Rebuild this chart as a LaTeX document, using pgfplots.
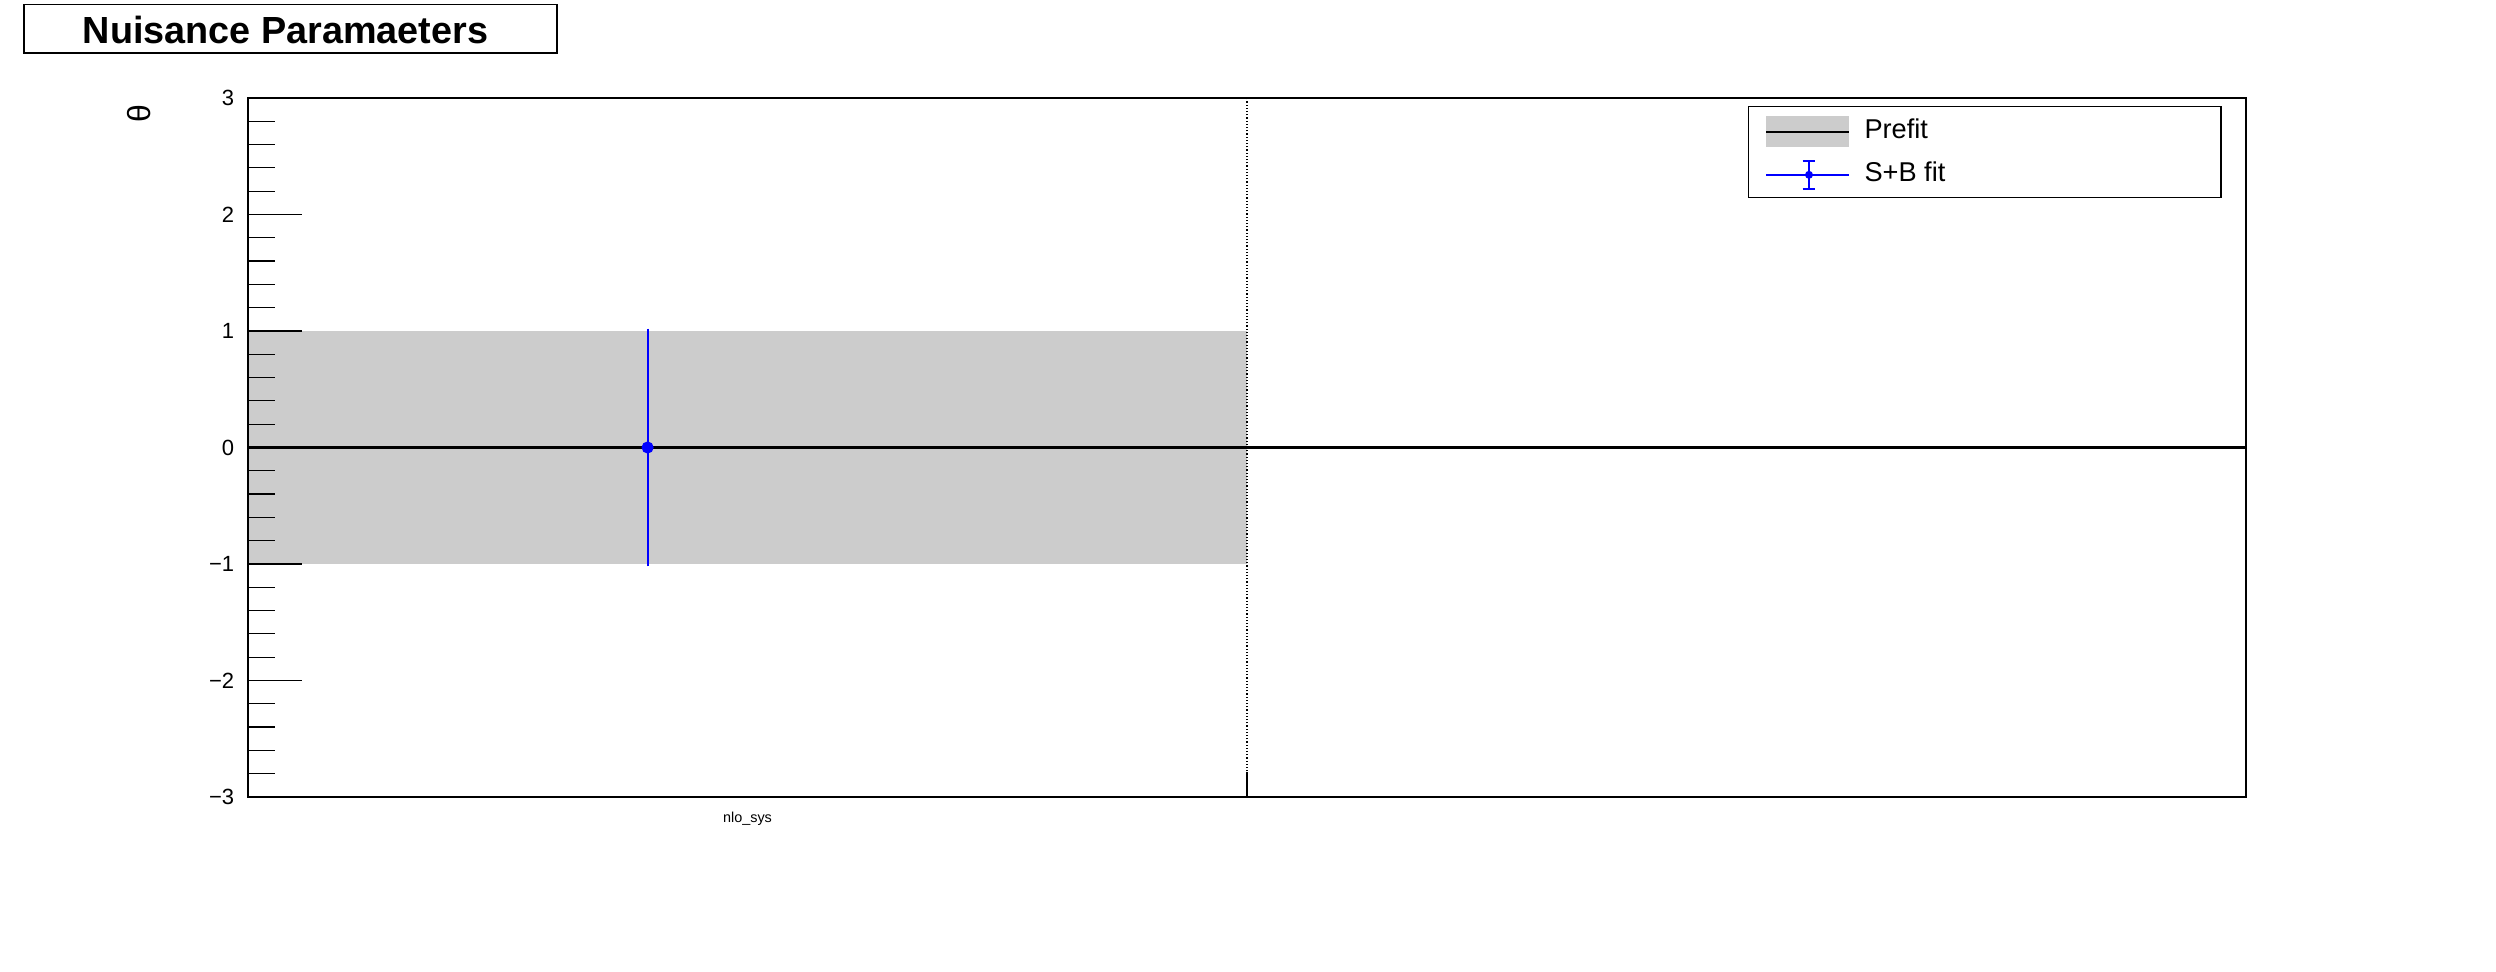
\documentclass[border=0pt]{standalone}
\usepackage{pgfplots}
\pgfplotsset{compat=1.18}
\usepackage{fontspec}
\setmainfont{Liberation Sans}
\definecolor{band}{HTML}{CCCCCC}
\begin{document}
\begin{tikzpicture}
\path[use as bounding box] (0pt,0pt) rectangle (624pt,243pt);
% title box
\draw[line width=0.3pt] (6pt,229.75pt) rectangle (139.25pt,241.9pt);
\node[anchor=base west, inner sep=0pt, font=\bfseries\fontsize{9.45}{11}\selectfont] at (20.5pt,232.1pt) {Nuisance Paramaeters};
% y label
\node[rotate=90, inner sep=0pt, font=\fontsize{8}{9}\selectfont] at (34.75pt,214.5pt) {θ};
\begin{axis}[
  at={(62pt,43.75pt)}, anchor=south west,
  scale only axis, width=499.5pt, height=174.75pt,
  xmin=0, xmax=2, ymin=-3, ymax=3,
  axis line style={line width=0.3pt},
  axis on top,
  ytick={-3,-2,-1,0,1,2,3},
  yticklabels={−3,−2,−1,0,1,2,3},
  minor y tick num=4,
  ytick pos=left, tick align=inside,
  major tick length=13.5pt, minor tick length=6.75pt,
  every tick/.style={line width=0.3pt, black},
  yticklabel style={font=\fontsize{5.5}{6}\selectfont, inner sep=0pt, xshift=-3.25pt},
  xtick={0.5}, xticklabels={nlo\_sys},
  xtick style={draw=none},
  xticklabel style={font=\fontsize{3.6}{4}\selectfont, inner sep=0pt, yshift=-3.5pt},
  legend style={draw=none, fill=none, at={(0.7588,0.9835)}, anchor=north west,
    inner sep=0pt, row sep=0pt, column sep=3.6pt,
    font=\fontsize{6.8}{8}\selectfont, nodes={inner sep=0pt}},
  legend cell align=left,
]
\addplot[fill=band, draw=none, forget plot] coordinates {(0,-1) (1,-1) (1,1) (0,1)} -- cycle;
\addplot[black, line width=0.55pt, no markers,
  legend image code/.code={
    \path[fill=band, draw=none] (0pt,-3.875pt) rectangle (20.75pt,3.875pt);
    \path[draw=black, line width=0.55pt] (0pt,0pt) -- (20.75pt,0pt);
    \path[draw=none, fill=none] (0pt,-5.375pt) rectangle (20.75pt,5.375pt);
  }] coordinates {(0,0) (2,0)};
\addlegendentry{Prefit}
\addplot[blue, line width=0.5pt, mark=*, mark size=1.25pt,
  legend image code/.code={
    \path[draw=blue, line width=0.5pt] (0pt,0pt) -- (20.75pt,0pt);
    \path[draw=blue, line width=0.5pt] (10.75pt,-3.5pt) -- (10.75pt,3.5pt);
    \path[draw=blue, line width=0.5pt] (9.15pt,-3.5pt) -- (12.35pt,-3.5pt);
    \path[draw=blue, line width=0.5pt] (9.15pt,3.5pt) -- (12.35pt,3.5pt);
    \path[fill=blue, draw=none] (10.75pt,0pt) circle (1pt);
    \path[draw=none, fill=none] (0pt,-5.375pt) rectangle (20.75pt,5.375pt);
  },
  error bars/.cd, y dir=both, y explicit,
  error bar style={blue, line width=0.5pt},
  error mark options={blue, line width=0.5pt, mark size=0.6pt}]
  coordinates {(0.4,0) +- (0,1)};
\addlegendentry{S+B fit}
% dotted separator and bottom tick at bin edge
\draw[line width=0.3pt, dash pattern=on 0.3pt off 0.5pt] (axis cs:1,-3) -- (axis cs:1,3);
\draw[line width=0.3pt] (axis cs:1,-3) -- ++(0pt,6.25pt);
% legend frame
\draw[line width=0.3pt] (rel axis cs:0.7508,0.9878) rectangle (rel axis cs:0.9875,0.8575);
\end{axis}
\end{tikzpicture}
\end{document}
